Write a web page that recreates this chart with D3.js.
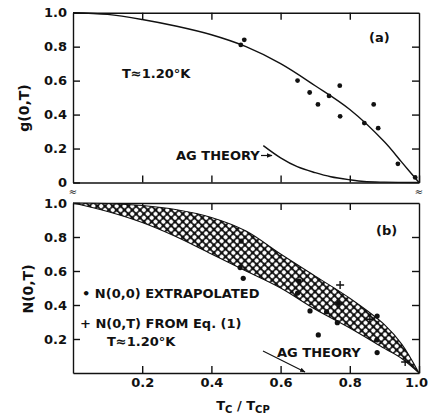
<!DOCTYPE html>
<html>
<head>
<meta charset="utf-8">
<script src="https://cdn.jsdelivr.net/npm/d3@7"></script>
<style>
  body { margin: 0; background: #fff; }
  svg text { font-family: "DejaVu Sans", sans-serif; font-weight: bold; fill: #111; }
</style>
</head>
<body>
<div id="chart"></div>
<script>
// panel (a): g(0,T)
var gCurveX = [0, 0.1, 0.2, 0.3, 0.4, 0.5, 0.6, 0.7, 0.8, 0.9, 0.95, 1.0];
var gCurveY = [1.0, 0.99, 0.96, 0.92, 0.87, 0.80, 0.70, 0.57, 0.43, 0.24, 0.12, 0.0];
var agCurveX = [0.55, 0.6, 0.648, 0.7, 0.745, 0.8, 0.841, 0.9, 1.0];
var agCurveY = [0.217, 0.145, 0.093, 0.058, 0.034, 0.016, 0.006, 0.002, 0];
var gDotX = [0.485, 0.495, 0.649, 0.684, 0.708, 0.740, 0.771, 0.772, 0.842, 0.869, 0.882, 0.939, 0.989];
var gDotY = [0.81, 0.84, 0.60, 0.53, 0.46, 0.51, 0.57, 0.39, 0.35, 0.46, 0.32, 0.11, 0.03];

// panel (b): N(0,T)
var bandX = [0, 0.1, 0.2, 0.3, 0.4, 0.5, 0.6, 0.7, 0.8, 0.9, 0.95, 1.0];
var bandUpper = [1.0, 0.997, 0.985, 0.96, 0.915, 0.835, 0.70, 0.57, 0.44, 0.285, 0.17, 0];
var bandLower = [1.0, 0.95, 0.885, 0.80, 0.70, 0.60, 0.50, 0.375, 0.265, 0.145, 0.085, 0];
var nDotX = [0.486, 0.483, 0.492, 0.653, 0.649, 0.685, 0.709, 0.733, 0.764, 0.767, 0.879, 0.878, 0.879];
var nDotY = [0.776, 0.62, 0.557, 0.54, 0.47, 0.365, 0.224, 0.36, 0.296, 0.41, 0.335, 0.194, 0.12];
var nCrossX = [0.772, 0.858, 0.96];
var nCrossY = [0.518, 0.316, 0.065];

var xTicks = [0.2, 0.4, 0.6, 0.8, 1.0];
var yTicksA = [0, 0.2, 0.4, 0.6, 0.8, 1.0];
var yTicksB = [0.2, 0.4, 0.6, 0.8, 1.0];

var W = 428, H = 419;
var svg = d3.select("#chart").append("svg").attr("width", W).attr("height", H);

var defs = svg.append("defs");
var pat = defs.append("pattern")
    .attr("id", "hatch")
    .attr("patternUnits", "userSpaceOnUse")
    .attr("width", 5.5).attr("height", 5.5)
    .attr("patternTransform", "rotate(45)");
pat.append("rect").attr("width", 5.5).attr("height", 5.5).attr("fill", "#111");
pat.append("circle").attr("cx", 2.75).attr("cy", 2.75).attr("r", 2.15).attr("fill", "#fff");

defs.append("marker")
    .attr("id", "arr")
    .attr("viewBox", "0 0 10 10")
    .attr("refX", 9).attr("refY", 5)
    .attr("markerWidth", 5).attr("markerHeight", 5)
    .attr("orient", "auto")
    .append("path").attr("d", "M0,1L10,5L0,9z").attr("fill", "#111");

var x = d3.scaleLinear().domain([0, 1]).range([73, 419]);
var yA = d3.scaleLinear().domain([0, 1]).range([182.5, 12.7]);
var yB = d3.scaleLinear().domain([0, 1]).range([373, 203]);

function frame(y, labelsX, yTicks) {
    var x0 = x.range()[0], x1 = x.range()[1];
    var y0 = y.range()[0], y1 = y.range()[1];
    svg.append("g").attr("class", labelsX ? "xlab" : "").attr("transform", "translate(0," + y0 + ")")
        .call(d3.axisBottom(x).tickValues(xTicks).tickSizeInner(-7).tickSizeOuter(0).tickPadding(5)
            .tickFormat(labelsX ? d3.format(".1f") : ""));
    svg.append("g").attr("transform", "translate(0," + y1 + ")")
        .call(d3.axisTop(x).tickValues([0.2, 0.4, 0.6, 0.8]).tickSizeInner(-7).tickSizeOuter(0).tickFormat(""));
    svg.append("g").attr("transform", "translate(" + x0 + ",0)")
        .call(d3.axisLeft(y).tickValues(yTicks).tickSizeInner(-7).tickSizeOuter(0).tickPadding(6)
            .tickFormat((d) => (d === 0 ? "0" : d3.format(".1f")(d))));
    svg.append("g").attr("transform", "translate(" + x1 + ",0)")
        .call(d3.axisRight(y).tickValues([0.2, 0.4, 0.6, 0.8]).tickSizeInner(-7).tickSizeOuter(0).tickFormat(""));
}

frame(yA, false, yTicksA);
frame(yB, true, yTicksB);

svg.selectAll(".domain, .tick line").attr("stroke", "#111").attr("stroke-width", 1.4);
svg.selectAll(".tick text")
    .style("font-family", "'DejaVu Sans', sans-serif")
    .style("font-weight", "bold")
    .style("font-size", "13px")
    .attr("fill", "#111");
// keep the last x label inside the picture
svg.selectAll(".xlab .tick text").filter((d) => d === 1.0).attr("dx", -3);

// panel (a)
var line = d3.line().curve(d3.curveCatmullRom);
svg.append("path")
    .attr("d", line.x((d, i) => x(gCurveX[i])).y((d, i) => yA(gCurveY[i]))(gCurveX))
    .attr("fill", "none").attr("stroke", "#111").attr("stroke-width", 1.4);
svg.append("path")
    .attr("d", line.x((d, i) => x(agCurveX[i])).y((d, i) => yA(agCurveY[i]))(agCurveX))
    .attr("fill", "none").attr("stroke", "#111").attr("stroke-width", 1.4);
svg.selectAll(".gdot").data(gDotX).enter().append("circle")
    .attr("cx", (d) => x(d)).attr("cy", (d, i) => yA(gDotY[i]))
    .attr("r", 2.4).attr("fill", "#111");

svg.append("text").attr("x", 122).attr("y", 78).style("font-size", "13px").text("T≈1.20°K");
svg.append("text").attr("x", 369).attr("y", 42).style("font-size", "13px").text("(a)");
svg.append("text").attr("x", 176).attr("y", 160).style("font-size", "13px").text("AG THEORY");
svg.append("path").attr("d", "M261,155.5H272").attr("stroke", "#111").attr("stroke-width", 1.2)
    .attr("marker-end", "url(#arr)");
svg.append("text").attr("transform", "translate(29,108) rotate(-90)")
    .attr("text-anchor", "middle").style("font-size", "14px").text("g(0,T)");

// panel (b)
var area = d3.area().curve(d3.curveCatmullRom)
    .x((d, i) => x(bandX[i]))
    .y0((d, i) => yB(bandLower[i]))
    .y1((d, i) => yB(bandUpper[i]));
svg.append("path").attr("d", area(bandX))
    .attr("fill", "url(#hatch)").attr("stroke", "#111").attr("stroke-width", 1.1);

svg.selectAll(".ndot").data(nDotX).enter().append("circle")
    .attr("cx", (d) => x(d)).attr("cy", (d, i) => yB(nDotY[i]))
    .attr("r", 2.6).attr("fill", "#111");
svg.selectAll(".ncross").data(nCrossX).enter().append("path")
    .attr("d", (d, i) => {
        var cx = x(d), cy = yB(nCrossY[i]);
        return "M" + (cx - 4) + "," + cy + "H" + (cx + 4) + "M" + cx + "," + (cy - 4) + "V" + (cy + 4);
    })
    .attr("stroke", "#111").attr("stroke-width", 1.4);

svg.append("text").attr("x", 376).attr("y", 235).style("font-size", "13px").text("(b)");
svg.append("text").attr("x", 82).attr("y", 298).style("font-size", "13px").text("• N(0,0) EXTRAPOLATED");
svg.append("text").attr("x", 80).attr("y", 328).style("font-size", "13px").text("+ N(0,T) FROM Eq. (1)");
svg.append("text").attr("x", 107).attr("y", 346).style("font-size", "13px").text("T≈1.20°K");
svg.append("text").attr("x", 277).attr("y", 357).style("font-size", "13px").text("AG THEORY");
svg.append("path").attr("d", "M263,351L305,372").attr("stroke", "#111").attr("stroke-width", 1.1)
    .attr("marker-end", "url(#arr)");
svg.append("text").attr("transform", "translate(33,289) rotate(-90)")
    .attr("text-anchor", "middle").style("font-size", "14px").text("N(0,T)");

// x label Tc / Tcp
var xl = svg.append("text").attr("x", 243).attr("y", 410).attr("text-anchor", "middle").style("font-size", "13px");
xl.append("tspan").text("T");
xl.append("tspan").attr("dy", 3).style("font-size", "10px").text("C");
xl.append("tspan").attr("dy", -3).text(" / T");
xl.append("tspan").attr("dy", 3).style("font-size", "10px").text("CP");

// axis break marks
[x(0), x(1)].forEach((bx) => {
    svg.append("text").attr("x", bx).attr("y", 195).attr("text-anchor", "middle")
        .style("font-size", "10px").style("font-weight", "normal").text("≈");
});
</script>
</body>
</html>
